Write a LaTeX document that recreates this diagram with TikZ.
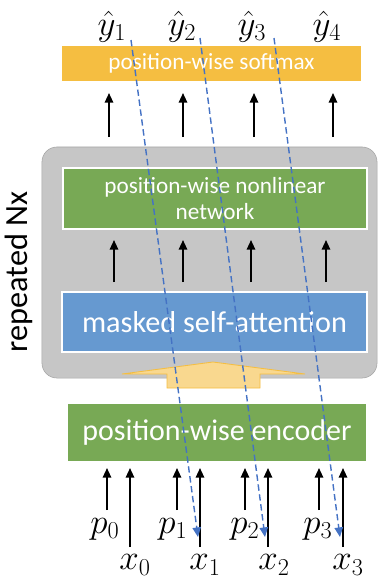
\documentclass[tikz,border=0pt]{standalone}
\usepackage[no-math]{fontspec}
\newfontfamily\carlito{Carlito}
\usetikzlibrary{arrows.meta}
\definecolor{softorange}{HTML}{F5BE41}
\definecolor{lightorange}{HTML}{F9D88F}
\definecolor{netgreen}{HTML}{78A955}
\definecolor{attnblue}{HTML}{6699D0}
\definecolor{blockgray}{HTML}{C6C6C6}
\definecolor{dashblue}{HTML}{4472C4}
\tikzset{
  layerbox/.style={draw=white, line width=0.8pt, text=white, align=center, font=\carlito},
  up/.style={-{Triangle[length=2.4mm,width=2.1mm]}, line width=1.2pt},
  skip/.style={dashblue, dashed, dash pattern=on 1.6mm off 0.9mm, line width=1pt, -{Triangle[length=2.4mm,width=2.1mm]}},
  mathlab/.style={inner sep=0pt, font=\fontsize{23}{26}\selectfont}
}
\begin{document}
\begin{tikzpicture}[x=0.025cm,y=-0.025cm]
\useasboundingbox (0,0) rectangle (380,580);
% repeated block
\node[draw=gray!70, fill=blockgray, rounded corners=0.375cm, minimum width=8.375cm, minimum height=5.775cm] (rep) at (209.5,262.5) {};
\node[rotate=90, font=\carlito\fontsize{23}{26}\selectfont] (nx) at (19,272) {repeated Nx};
% layers
\node[layerbox, fill=softorange, minimum width=7.525cm, minimum height=0.925cm, font=\carlito\fontsize{16.5}{18}\selectfont] (soft) at (211.5,63.5) {position-wise softmax};
\node[layerbox, fill=netgreen, minimum width=7.6cm, minimum height=1.525cm, font=\carlito\fontsize{16.5}{19}\selectfont] (ffn) at (215,198.5) {position-wise nonlinear\\network};
\node[layerbox, fill=attnblue, minimum width=7.625cm, minimum height=1.5cm, font=\carlito\fontsize{21.5}{25}\selectfont] (attn) at (214.5,322) {masked self-attention};
\node[layerbox, fill=netgreen, minimum width=7.5cm, minimum height=1.475cm, font=\carlito\fontsize{21.3}{25}\selectfont] (enc) at (217,432.5) {position-wise encoder};
% block arrow into the repeated block
\draw[fill=lightorange, draw=softorange, line width=0.6pt]
  (213,362) -- (305,374) -- (260,374) -- (260,388) -- (167,388) -- (167,374) -- (122,374) -- cycle;
% outputs
\foreach \i/\x in {1/112,2/182,3/252,4/327}
  \node[mathlab] (y\i) at (\x,27) {$\hat{y}_\i$};
\foreach \i/\x in {1/109,2/183,3/254,4/333} {
  \coordinate (ot\i) at (\x,93);
  \coordinate (ob\i) at (\x,137);
  \draw[up] (ob\i) -- (ot\i);
}
\foreach \i/\x in {1/114,2/183,3/251,4/326} {
  \coordinate (it\i) at (\x,240);
  \coordinate (ib\i) at (\x,282);
  \draw[up] (ib\i) -- (it\i);
}
% inputs
\foreach \i/\x in {0/105,1/173,2/245,3/318}
  \node[mathlab] (p\i) at (\x,529) {$p_\i$};
\foreach \i/\x in {0/135,1/205,2/274,3/348}
  \node[mathlab] (x\i) at (\x,565) {$x_\i$};
\foreach \i/\x in {0/107,1/177,2/245,3/319} {
  \coordinate (pt\i) at (\x,468);
  \coordinate (pb\i) at (\x,510);
  \draw[up] (pb\i) -- (pt\i);
}
\foreach \i/\x in {0/130,1/200,2/268,3/343} {
  \coordinate (xt\i) at (\x,468);
  \coordinate (xb\i) at (\x,547);
  \draw[up] (xb\i) -- (xt\i);
}
% shifted targets
\coordinate (s1) at (131,40);
\coordinate (s2) at (200,38);
\coordinate (s3) at (274,38);
\coordinate (e1) at (198,537);
\coordinate (e2) at (265,537);
\coordinate (e3) at (340,537);
\foreach \i in {1,2,3}
  \draw[skip] (s\i) -- (e\i);
\end{tikzpicture}
\end{document}
